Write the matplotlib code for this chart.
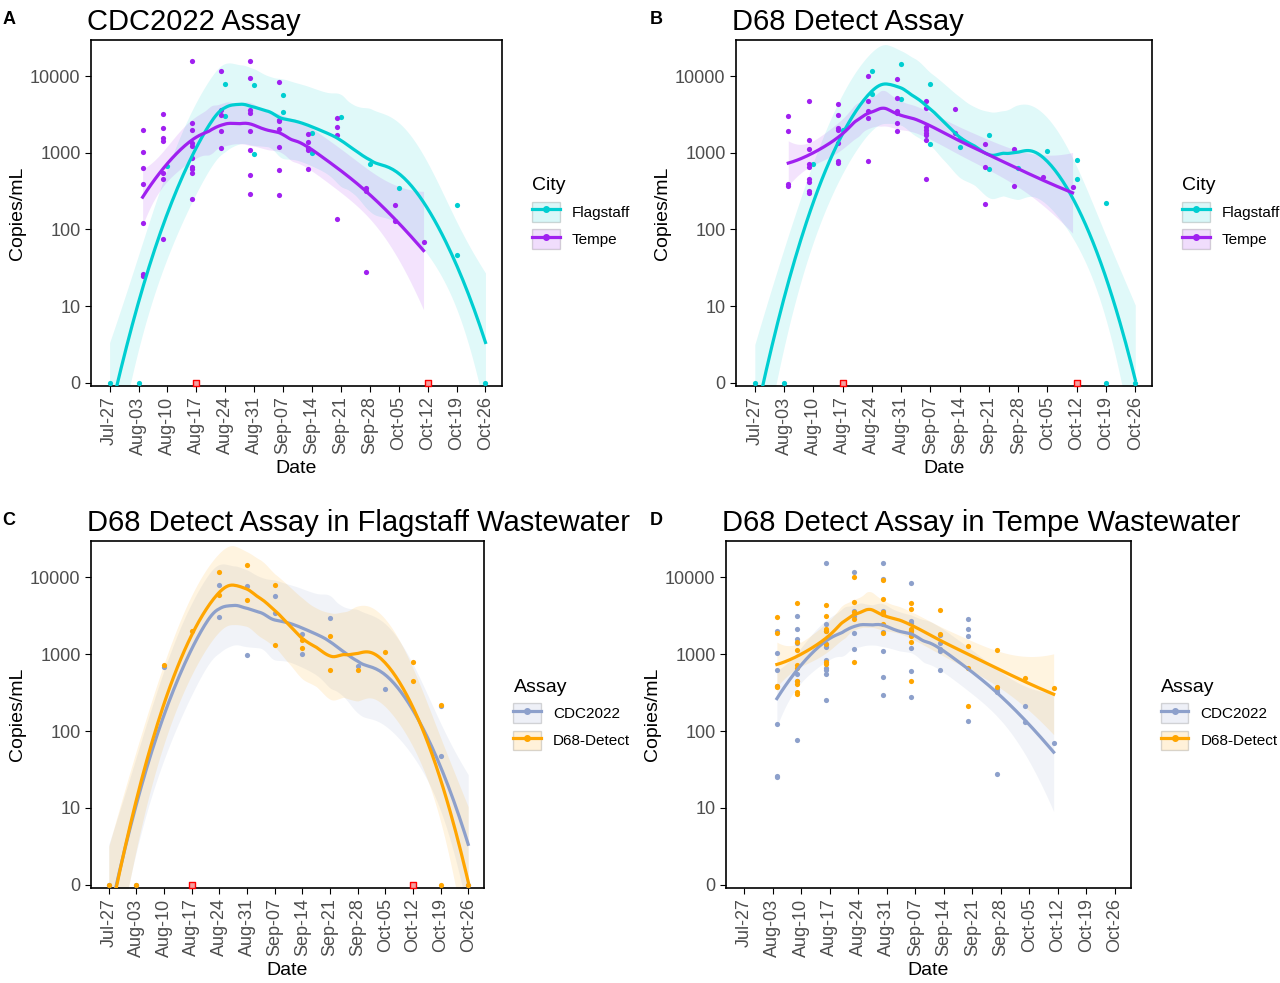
import numpy as np
import matplotlib
matplotlib.use("Agg")
import matplotlib.pyplot as plt
from matplotlib.lines import Line2D
from matplotlib.patches import Patch

plt.rcParams['font.family'] = ['Liberation Sans', 'DejaVu Sans']

tick_labels = ["Jul-27","Aug-03","Aug-10","Aug-17","Aug-24","Aug-31","Sep-07",
               "Sep-14","Sep-21","Sep-28","Oct-05","Oct-12","Oct-19","Oct-26"]

# Flagstaff CDC2022 (day offset from Jul-27, copies/mL)
flag_cdc_days = [0,7,14,28,28,35,35,42,42,49,49,56,63,70,84,84,91]
flag_cdc_vals = [0,0,680,7900,3000,7700,960,5700,3400,1800,1000,2950,710,350,210,47,0]
# Flagstaff D68 Detect
flag_d68_days = [0,7,14,21,28,28,35,35,42,42,49,49,56,56,63,70,77,77,84,84,91]
flag_d68_vals = [0,0,720,2000,11500,5900,14500,5000,7800,1320,1510,1200,1700,620,630,1050,800,450,220,0,0]
# Tempe CDC2022
tempe_cdc_days = [8]*7 + [13]*7 + [20]*10 + [27]*5 + [34]*8 + [41]*7 + [48]*5 + [55]*4 + [62]*3 + [69]*2 + [76]
tempe_cdc_vals = [2000,1020,630,390,123,26,25,
                  3160,2090,1550,1410,550,450,76,
                  15500,2450,2000,1350,1230,850,660,620,550,250,
                  11500,3630,3090,1900,1170,
                  15500,9550,3630,3310,1950,1100,510,290,
                  8300,2690,2570,2040,1200,600,280,
                  1780,1380,1150,1100,620,
                  2140,2820,1700,135,
                  350,320,28,
                  210,130,
                  69]
# Tempe D68 Detect
tempe_d68_days = [8]*4 + [13]*9 + [20]*7 + [27]*5 + [34]*6 + [41]*8 + [48]*2 + [55]*3 + [62]*2 + [69] + [76]
tempe_d68_vals = [3020,1900,390,370,
                  4680,1450,1120,720,660,450,410,320,300,
                  4370,3090,2090,2000,1350,780,740,
                  10000,4790,3550,2820,790,
                  9120,5250,3550,3310,2450,1900,
                  4680,3800,2140,2000,1820,1700,1450,450,
                  3720,1820,
                  1290,660,214,
                  1120,370,
                  490,
                  363]
missing_days = [21, 77]

C_CYAN = "#00CED1"; C_PURP = "#A020F0"; C_CDC = "#8DA0CB"; C_D68 = "#FFA500"

def tr(v):
    return np.log10(np.clip(np.asarray(v, float), 1, None))

def loess(x, y, xs, span=0.75):
    x = np.asarray(x, float); y = np.asarray(y, float)
    n = len(x); q = int(np.floor(n * span))
    def Lrow(x0):
        d = np.abs(x - x0); h = np.sort(d)[q - 1]
        w = np.clip(1 - (d / h) ** 3, 0, None) ** 3
        X = np.vstack([np.ones(n), x - x0, (x - x0) ** 2]).T
        W = np.diag(w)
        A = np.linalg.pinv(X.T @ W @ X) @ X.T @ W
        return A[0]
    L = np.array([Lrow(v) for v in x])
    res = y - L @ y
    M = np.eye(n) - L
    d1 = np.trace(M.T @ M)
    sigma = np.sqrt(np.sum(res ** 2) / d1)
    Ls = np.array([Lrow(v) for v in xs])
    fit = Ls @ y
    se = sigma * np.sqrt(np.sum(Ls ** 2, axis=1))
    return fit, se

def panel(ax, series, title, letter, legtitle, show_missing, ymax=4.47):
    handles = []
    for days, vals, col, lab in series:
        d = np.asarray(days, float); t = tr(vals)
        xs = np.linspace(d.min(), d.max(), 200)
        fit, se = loess(d, t, xs)
        ax.fill_between(xs, fit - 2.0 * se, fit + 2.0 * se, color=col, alpha=0.12, lw=0)
        ax.scatter(d, t, s=14, color=col, zorder=3, lw=0)
        ax.plot(xs, fit, color=col, lw=2.3, zorder=4)
        handles.append((Patch(facecolor=col, alpha=0.15, edgecolor="black", lw=1.0),
                        Line2D([], [], color=col, lw=2.3, marker="o", ms=4)))
    if show_missing:
        ax.scatter(missing_days, [0, 0], marker="s", s=16, facecolor="#f4a0a0",
                   edgecolor="red", lw=1, zorder=5, clip_on=False)
    ax.set_xlim(-4.5, 95)
    ax.set_ylim(-0.04, ymax)
    ax.set_yticks([0, 1, 2, 3, 4])
    ax.set_yticklabels(["0", "10", "100", "1000", "10000"], fontsize=13, color="#4d4d4d")
    ax.set_xticks(np.arange(14) * 7)
    ax.set_xticklabels(tick_labels, rotation=90, fontsize=13, color="#4d4d4d")
    ax.set_xlabel("Date", fontsize=14, labelpad=4)
    ax.set_ylabel("Copies/mL", fontsize=14, labelpad=3)
    for s in ax.spines.values():
        s.set_linewidth(1.2)
    ax.tick_params(length=4)
    ax.set_title(title, fontsize=21, loc="left", x=-0.01, pad=7)
    bb = ax.get_position()
    fig.text(0.002 if bb.x0 < 0.5 else 650 / 1280, bb.y1 + 0.012, letter, fontsize=13,
             fontweight="bold", va="bottom")
    ax.legend(handles, [s[3] for s in series], title=legtitle, loc="center left",
              bbox_to_anchor=(1.04, 0.5), frameon=False, fontsize=11,
              title_fontsize=14, handlelength=1.8, handleheight=1.6, alignment="left")

fig = plt.figure(figsize=(12.8, 9.83), dpi=100)
W, H = 1280, 983
def add(l, t, r, b):
    return fig.add_axes([l / W, 1 - b / H, (r - l) / W, (b - t) / H])

axA = add(91, 40, 502, 386)
axB = add(736, 40, 1152, 386)
axC = add(91, 541, 484, 888)
axD = add(726, 541, 1131, 888)

panel(axA, [(flag_cdc_days, flag_cdc_vals, C_CYAN, "Flagstaff"),
            (tempe_cdc_days, tempe_cdc_vals, C_PURP, "Tempe")],
      "CDC2022 Assay", "A", "City", True)
panel(axB, [(flag_d68_days, flag_d68_vals, C_CYAN, "Flagstaff"),
            (tempe_d68_days, tempe_d68_vals, C_PURP, "Tempe")],
      "D68 Detect Assay", "B", "City", True)
panel(axC, [(flag_cdc_days, flag_cdc_vals, C_CDC, "CDC2022"),
            (flag_d68_days, flag_d68_vals, C_D68, "D68-Detect")],
      "D68 Detect Assay in Flagstaff Wastewater", "C", "Assay", True)
panel(axD, [(tempe_cdc_days, tempe_cdc_vals, C_CDC, "CDC2022"),
            (tempe_d68_days, tempe_d68_vals, C_D68, "D68-Detect")],
      "D68 Detect Assay in Tempe Wastewater", "D", "Assay", False)

fig.savefig("out.png", dpi=100)
